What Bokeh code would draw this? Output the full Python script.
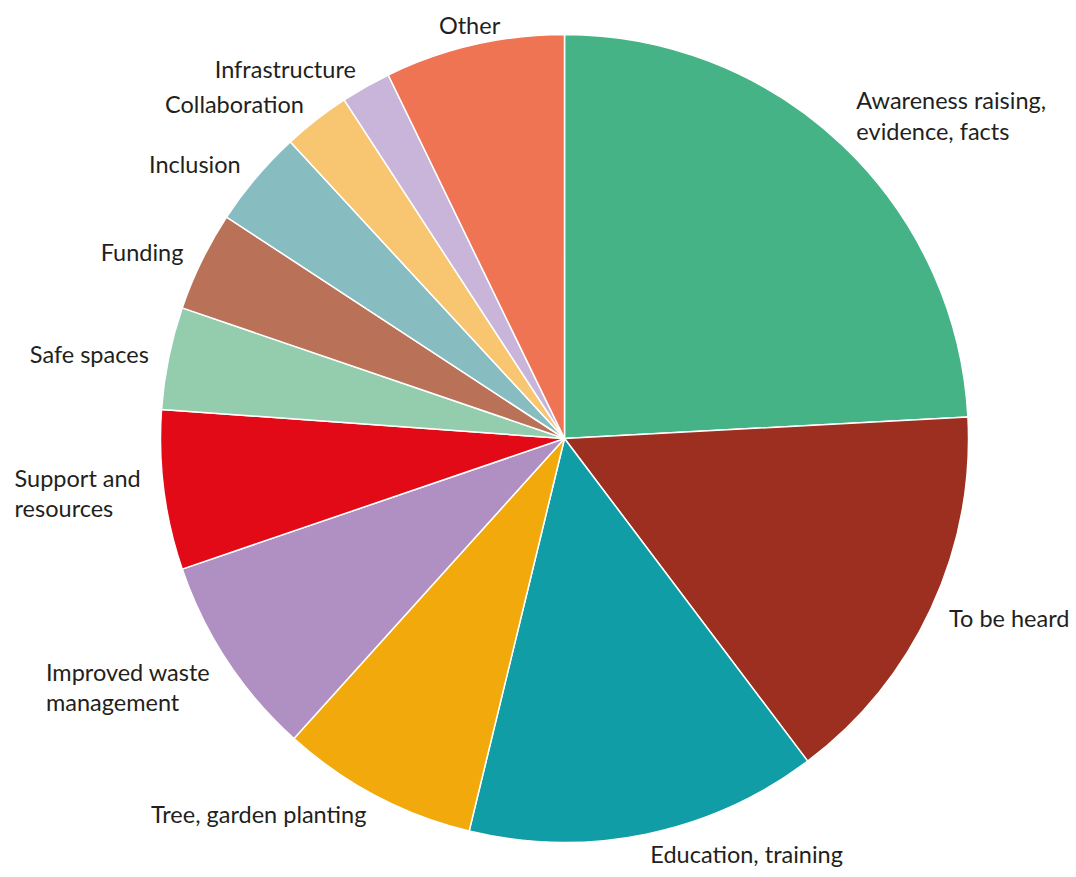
import numpy as np
from bokeh.plotting import figure
from bokeh.models import Range1d, ColumnDataSource
from bokeh.core.properties import value
from bokeh.embed import file_html
from bokeh.resources import INLINE

categories = [
    "Awareness raising,\nevidence, facts",
    "To be heard",
    "Education, training",
    "Tree, garden planting",
    "Improved waste\nmanagement",
    "Support and\nresources",
    "Safe spaces",
    "Funding",
    "Inclusion",
    "Collaboration",
    "Infrastructure",
    "Other",
]
shares = [24.2, 15.6, 14.1, 7.9, 8.1, 6.4, 4.1, 4.0, 3.9, 2.7, 2.0, 7.2]
colors = [
    "#45B386", "#9C2F1F", "#119DA6", "#F2A90B", "#B08FC2", "#E20A17",
    "#93CDAE", "#B97158", "#87BCC1", "#F8C571", "#C9B5D9", "#EE7453",
]

W, H = 1076, 877
cx, cy, r = 564, H - 438, 404
font_px = 23.5
line_h = 1.09
line_px = 30

vals = np.array(shares, dtype=float)
frac = vals / vals.sum()
cum = np.concatenate([[0], np.cumsum(frac)])
start = np.pi / 2 - cum[:-1] * 2 * np.pi
end = np.pi / 2 - cum[1:] * 2 * np.pi
mid = (start + end) / 2

p = figure(width=W, height=H, x_range=Range1d(0, W), y_range=Range1d(0, H),
           output_backend="svg", toolbar_location=None, min_border=0,
           outline_line_color=None, background_fill_color="white")
p.axis.visible = False
p.grid.visible = False

src = ColumnDataSource(dict(start=start, end=end, color=colors))
p.wedge(x=cx, y=cy, radius=r, start_angle="start", end_angle="end",
        direction="clock", fill_color="color", line_color="white",
        line_width=1.5, source=src)

R = r * 1.05
lx, ly, al = [], [], []
for m, lab in zip(mid, categories):
    ux, uy = np.cos(m), np.sin(m)
    x = cx + R * ux
    y = cy + R * uy
    lines = lab.split("\n")
    n = len(lines) - 1
    if n and abs(uy) > 0.3:
        y += np.sign(uy) * n * line_px / 2
    if ux > 0.1:
        a = "left"
    elif ux < -0.25:
        if n == 0:
            a = "right"
        else:
            # block right edge at anchor, lines left-aligned
            a = "left"
            x -= 0.5 * font_px * max(len(s) for s in lines)
    else:
        a = "center"
    lx.append(x)
    ly.append(y)
    al.append(a)

lsrc = ColumnDataSource(dict(x=lx, y=ly, text=categories, align=al))
p.text(x="x", y="y", text="text", text_align="align", text_baseline="middle",
       text_font=value("Lato"), text_font_size=f"{font_px}px",
       text_color="#231F20", text_line_height=line_h, source=lsrc)

open("out.html", "w").write(file_html(p, INLINE))
